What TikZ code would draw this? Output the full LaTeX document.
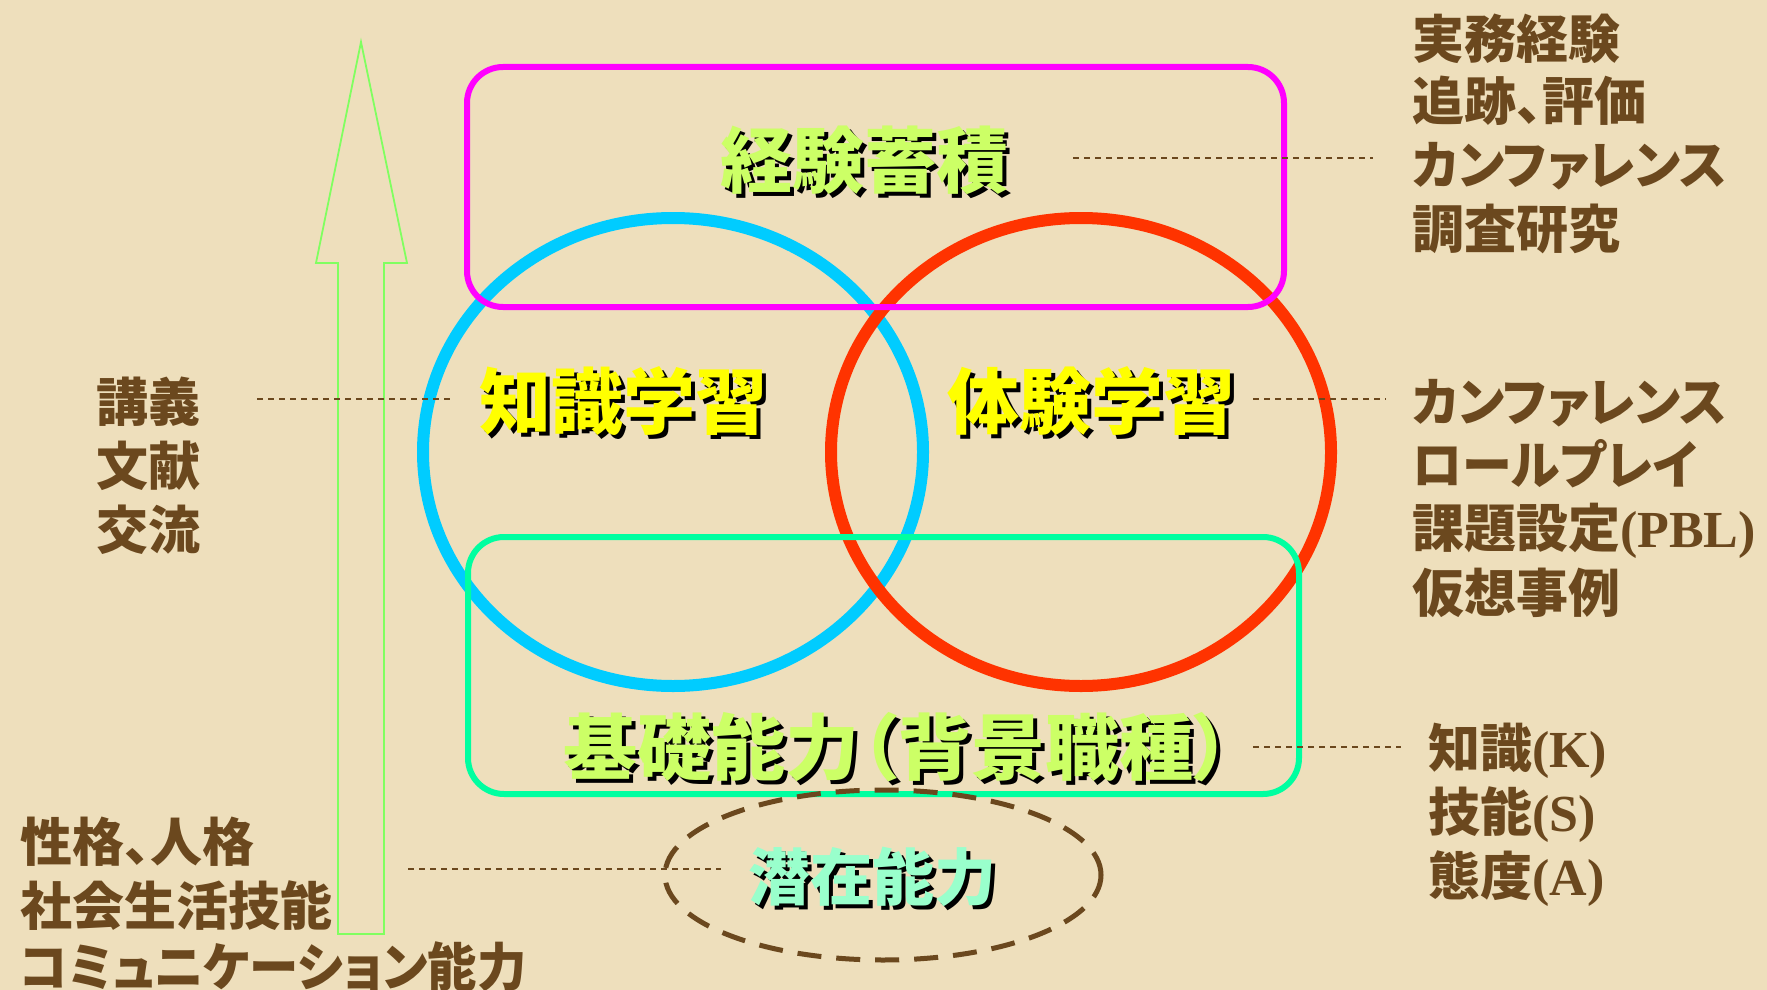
\documentclass[tikz,border=0pt]{standalone}
\usepackage{fontspec}
\newfontfamily\jp{Noto Sans CJK JP}[RawFeature=+palt]
\newfontfamily\tms{Liberation Serif}
\usetikzlibrary{shapes.geometric}
\definecolor{bgc}{RGB}{238,223,188}
\definecolor{brn}{RGB}{107,72,30}
\definecolor{mag}{RGB}{255,0,255}
\definecolor{cyanc}{RGB}{0,204,255}
\definecolor{redc}{RGB}{255,51,0}
\definecolor{grnc}{RGB}{0,255,160}
\definecolor{arrc}{RGB}{128,255,96}
\definecolor{lyg}{RGB}{204,255,102}
\definecolor{ylw}{RGB}{255,255,0}
\definecolor{mint}{RGB}{153,255,204}
\newcommand\shd[2]{\rlap{\hspace{4pt}\raisebox{-4pt}{\color{black}#2}}{\color{#1}#2}}
\newcommand\lat[1]{{\tms\bfseries #1}}
\newcommand\sq[2]{\scalebox{#1}[1]{#2}}
\tikzset{
  brtext/.style={font=\jp\bfseries\fontsize{52}{60}\selectfont, text=brn, anchor=west,
    inner sep=0pt, text height=46pt, text depth=6pt},
  bigtext/.style={font=\jp\bfseries\fontsize{72}{80}\selectfont, inner sep=0pt,
    text height=63pt, text depth=9pt},
  conn/.style={draw=brn, line width=1.5pt, dash pattern=on 6pt off 5pt},
  ring/.style={ellipse, minimum width=500pt, minimum height=468pt, line width=12pt, inner sep=0pt},
  frame/.style={rounded corners=36pt, line width=6pt},
}
\begin{document}
\begin{tikzpicture}[x=1pt,y=-1pt]
\useasboundingbox (0,0) rectangle (1767,990);
\fill[bgc] (0,0) rectangle (1767,990);

% up arrow
\draw[arrc, line width=1.8pt, line join=miter]
  (361,42) -- (407,263) -- (384,263) -- (384,934) -- (338,934) -- (338,263) -- (316,263) -- cycle;

% circles
\node[ring, draw=cyanc] (kc) at (673,452) {};
\node[ring, draw=redc] (tc) at (1081,452) {};

% frames
\node[draw=mag, frame, minimum width=817pt, minimum height=240pt, inner sep=0pt] (keiken) at (875.5,187) {};
\node[draw=grnc, frame, minimum width=831pt, minimum height=257pt, inner sep=0pt] (kiso) at (883.5,665.5) {};

% big labels
\node[bigtext] (t1) at (864,160) {\shd{lyg}{経験蓄積}};
\node[bigtext] (t2) at (623,401) {\shd{ylw}{知識学習}};
\node[bigtext] (t3) at (1091,401) {\shd{ylw}{体験学習}};
\node[bigtext] (t4) at (897,747) {\scalebox{1.03}[1]{\shd{lyg}{基礎能力（背景職種）}}};

% dashed ellipse
\node[ellipse, draw=brn, line width=5pt, dash pattern=on 24pt off 15pt,
  minimum width=436pt, minimum height=170pt, inner sep=0pt] (sen) at (883,875) {};
\node[font=\jp\bfseries\fontsize{62}{70}\selectfont, inner sep=0pt, text height=54pt, text depth=8pt]
  (t5) at (872,877) {\shd{mint}{潜在能力}};

% right top block
\node[brtext] (r1) at (1412,39) {実務経験};
\node[brtext] (r2) at (1412,101) {追跡、評価};
\node[brtext] (r3) at (1412,164) {\sq{0.965}{カンファレンス}};
\node[brtext] (r4) at (1412,228) {調査研究};

% right middle block
\node[brtext] (m1) at (1412,401) {\sq{0.965}{カンファレンス}};
\node[brtext] (m2) at (1412,464) {\sq{0.96}{ロールプレイ}};
\node[brtext] (m3) at (1412,527) {課題設定\lat{(PBL)}};
\node[brtext] (m4) at (1412,592) {仮想事例};

% KSA block
\node[brtext] (k1) at (1428,747) {知識\lat{(K)}};
\node[brtext] (k2) at (1428,811) {技能\lat{(S)}};
\node[brtext] (k3) at (1428,875) {態度\lat{(A)}};

% left block
\node[brtext] (l1) at (96,401) {講義};
\node[brtext] (l2) at (96,465) {文献};
\node[brtext] (l3) at (96,529) {交流};

% bottom-left block
\node[brtext] (b1) at (20,841) {性格、人格};
\node[brtext] (b2) at (20,905) {社会生活技能};
\node[brtext] (b3) at (20,966) {\sq{0.95}{コミュニケーション能力}};

% dashed connectors
\coordinate (c1a) at (1073,158); \coordinate (c1b) at (1373,158);
\coordinate (c2a) at (257,399);  \coordinate (c2b) at (451,399);
\coordinate (c3a) at (1253,399); \coordinate (c3b) at (1386,399);
\coordinate (c4a) at (1253,747); \coordinate (c4b) at (1401,747);
\coordinate (c5a) at (408,869);  \coordinate (c5b) at (721,869);
\draw[conn] (c1a) -- (c1b);
\draw[conn] (c2a) -- (c2b);
\draw[conn] (c3a) -- (c3b);
\draw[conn] (c4a) -- (c4b);
\draw[conn] (c5a) -- (c5b);
\end{tikzpicture}
\end{document}
